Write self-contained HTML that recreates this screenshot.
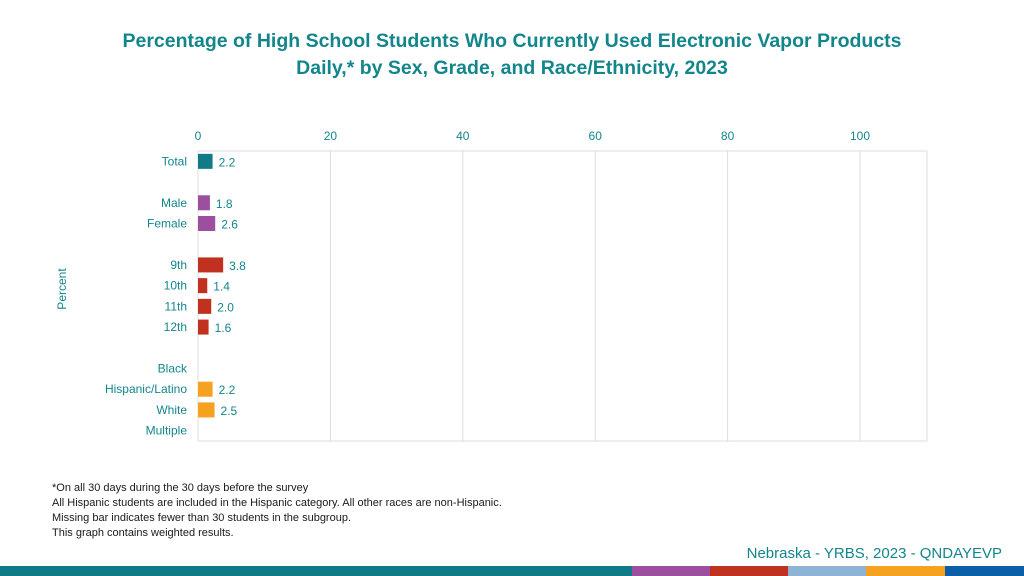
<!DOCTYPE html>
<html><head><meta charset="utf-8"><style>
body{margin:0;width:1024px;height:576px;background:#fff;overflow:hidden;font-family:"Liberation Sans",sans-serif;position:relative}
.t{position:absolute;left:0;width:1024px;text-align:center;color:#13868c;font-weight:bold;font-size:19.5px;line-height:27px;top:28px}
.note{position:absolute;left:52px;top:481px;font-size:11px;line-height:15px;color:#1a1a1a}
.src{position:absolute;right:22px;top:545px;font-size:15px;color:#13868c}
</style></head><body>
<div class="t">Percentage of High School Students Who Currently Used Electronic Vapor Products<br>Daily,* by Sex, Grade, and Race/Ethnicity, 2023</div>
<svg id="c" width="1024" height="576" style="position:absolute;left:0;top:0"></svg>
<div class="note">*On all 30 days during the 30 days before the survey<br>All Hispanic students are included in the Hispanic category.  All other races are non-Hispanic.<br>Missing bar indicates fewer than 30 students in the subgroup.<br>This graph contains weighted results.</div>
<div class="src">Nebraska - YRBS, 2023 - QNDAYEVP</div>
<script>
const categories=["Total","","Male","Female","","9th","10th","11th","12th","","Black","Hispanic/Latino","White","Multiple"];
const values=[2.2,null,1.8,2.6,null,3.8,1.4,2.0,1.6,null,null,2.2,2.5,null];
const colors=["#0f7b86",null,"#9b4f9e","#9b4f9e",null,"#c0321f","#c0321f","#c0321f","#c0321f",null,"#f4a21f","#f4a21f","#f4a21f","#f4a21f"];
const ticks=[0,20,40,60,80,100];
const NS="http://www.w3.org/2000/svg",svg=document.getElementById('c');
const x=v=>198+v*6.62, pTop=151,pBot=441,step=(pBot-pTop)/categories.length;
function mk(t,a,txt){const e=document.createElementNS(NS,t);for(const k in a)e.setAttribute(k,a[k]);if(txt!=null)e.textContent=txt;svg.appendChild(e);return e;}
let g=mk('line',{x1:198,x2:927,y1:pTop,y2:pTop,stroke:'#ddd'});


g=mk('line',{x1:927,x2:927,y1:pTop,y2:pBot,stroke:'#ddd'});


g=mk('line',{x1:198,x2:927,y1:pBot,y2:pBot,stroke:'#ddd'});


ticks.forEach(t=>{
 let l=mk('line',{x1:x(t),x2:x(t),y1:pTop,y2:pBot,stroke:'#ddd'});
 
 
 let s=mk('text',{x:x(t),y:140,'text-anchor':'middle','font-size':12,fill:'#13868c'},t);
 
 
});
categories.forEach((c,i)=>{
 const cy=pTop+step*(i+0.5);
 if(c){let s=mk('text',{x:187,y:cy+4,'text-anchor':'end','font-size':12,fill:'#13868c'},c);
 
 }
 if(values[i]!=null){
  let r=mk('rect',{x:x(0),y:cy-7.5,width:x(values[i])-x(0),height:15,fill:colors[i]});
  
  
  let s=mk('text',{x:x(values[i])+6,y:cy+5,'font-size':12,fill:'#13868c'},values[i].toFixed(1));
  
  
 }
});
let yt=mk('text',{x:66,y:289,'text-anchor':'middle','font-size':12,fill:'#13868c',transform:'rotate(-90 66 289)'},'Percent');


[[0,632,'#0f7b86'],[632,710,'#9b4f9e'],[710,788,'#c0321f'],[788,866,'#8db3d6'],[866,945,'#f4a21f'],[945,1024,'#0b5ea8']].forEach(b=>{
 let r=mk('rect',{x:b[0],y:566,width:b[1]-b[0],height:10,fill:b[2]});
 
 
});
</script>
</body></html>
